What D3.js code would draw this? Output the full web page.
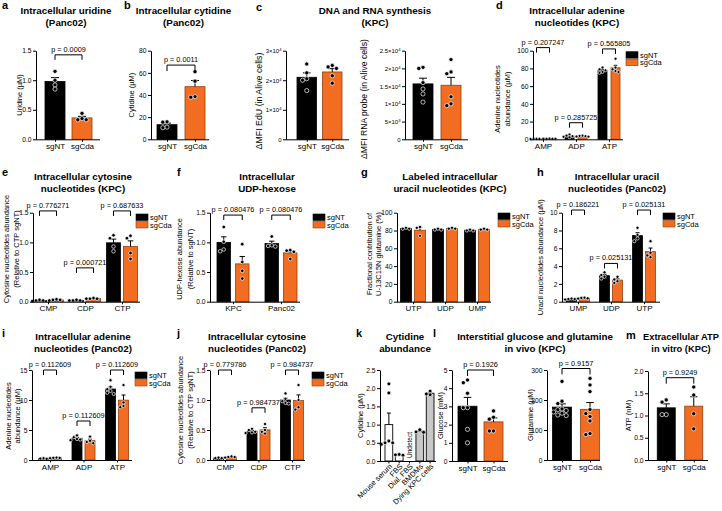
<!DOCTYPE html>
<html>
<head>
<meta charset="utf-8">
<script src="https://cdn.jsdelivr.net/npm/d3@7"></script>
<style>
  body { margin: 0; background: #fff; }
  svg text { font-family: "Liberation Sans", Arial, sans-serif; fill: #000; }
</style>
</head>
<body>
<svg id="fig" width="722" height="511"></svg>
<script>
var seriesNames = ["sgNT", "sgCda"];

// a  intracellular uridine (Panc02)
var uridine = [[[1.15, 1.0, 0.92, 0.85], [0.44, 0.35, 0.33, 0.33]]];
var uridineP = ["p = 0.0009"];
var uridineTicks = [0, 0.5, 1, 1.5];

// b  intracellular cytidine (Panc02)
var cytidine = [[[15.8, 15.5, 11.0, 10.5], [61, 52.5, 38.5, 38]]];
var cytidineP = ["p = 0.0011"];
var cytidineTicks = [0, 20, 40, 60, 80];

// c  DNA and RNA synthesis (KPC)
var eduMfi = [[[25500, 22500, 20500, 20000, 16500], [25000, 24500, 24000, 21500, 19000]]];
var eduTicks = [0, 10000, 20000, 30000];
var rnaMfi = [[[20000, 20300, 16000, 14200, 12800, 10500], [22500, 19000, 18500, 12000, 10000, 9500]]];
var rnaTicks = [0, 5000, 10000, 15000, 20000, 25000];

// d  adenine nucleotides (KPC)
var adenineKpcGroups = ["AMP", "ADP", "ATP"];
var adenineKpc = [
  [[0.6, 0.5, 0.4, 0.5, 0.4], [0.8, 0.7, 0.6, 0.6, 0.7]],
  [[5.5, 4.2, 3.5, 2.8, 2.2], [4.2, 3.8, 3.5, 3.2, 3.0]],
  [[81, 79, 78, 76, 75], [91, 81, 79, 77, 76]]
];
var adenineKpcP = ["p = 0.207247", "p = 0.285725", "p = 0.565805"];
var pctTicks = [0, 20, 40, 60, 80, 100];

// e  cytosine nucleotides (KPC)
var cytosineKpcGroups = ["CMP", "CDP", "CTP"];
var cytosineKpc = [
  [[0.03, 0.02, 0.02, 0.01], [0.04, 0.03, 0.03, 0.02]],
  [[0.03, 0.02, 0.02, 0.02], [0.06, 0.05, 0.05, 0.05]],
  [[1.12, 1.07, 0.93, 0.85], [1.11, 1.07, 0.82, 0.72]]
];
var cytosineKpcP = ["p = 0.776271", "p = 0.000721", "p = 0.687633"];
var relTicks = [0, 0.5, 1, 1.5];

// f  UDP-hexose
var udpGroups = ["KPC", "Panc02"];
var udpHexose = [
  [[1.26, 1.01, 0.88, 0.85], [0.97, 0.67, 0.52, 0.39]],
  [[1.1, 0.95, 0.94, 0.93], [0.87, 0.86, 0.84, 0.72]]
];
var udpP = ["p = 0.080476", "p = 0.080476"];

// g  labeled uracil nucleotides (KPC)
var labeledGroups = ["UTP", "UDP", "UMP"];
var labeledUracil = [
  [[83, 82, 82], [84, 83, 74]],
  [[82, 81, 81], [83, 82, 82]],
  [[81, 80, 80], [82, 81, 81]]
];

// h  uracil nucleotides (Panc02)
var uracilGroups = ["UMP", "UDP", "UTP"];
var uracilPanc = [
  [[0.35, 0.3, 0.25, 0.3], [0.45, 0.42, 0.38, 0.35]],
  [[3.3, 3.0, 2.8, 2.6], [2.8, 2.5, 2.3, 2.1]],
  [[8.3, 7.5, 7.1, 6.8], [6.8, 5.5, 5.2, 5.0]]
];
var uracilP = ["p = 0.186221", "p = 0.025131", "p = 0.025131"];
var uracilTicks = [0, 2, 4, 6, 8, 10];

// i  adenine nucleotides (Panc02)
var adeninePancGroups = ["AMP", "ADP", "ATP"];
var adeninePanc = [
  [[0.3, 0.25, 0.2], [0.4, 0.35, 0.35, 0.3]],
  [[4.1, 3.8, 3.5, 3.3, 3.4], [3.9, 3.2, 3.0, 2.8]],
  [[13.3, 12.2, 11.8, 11.5, 11.2, 11.0], [12.5, 9.6, 9.0, 8.8]]
];
var adeninePancP = ["p = 0.112609", "p = 0.112609", "p = 0.112609"];
var adeninePancTicks = [0, 5, 10, 15];

// j  cytosine nucleotides (Panc02)
var cytosinePancGroups = ["CMP", "CDP", "CTP"];
var cytosinePanc = [
  [[0.04, 0.03, 0.03], [0.06, 0.05, 0.05, 0.04]],
  [[0.52, 0.5, 0.47, 0.45, 0.46], [0.6, 0.5, 0.47, 0.44]],
  [[1.11, 1.02, 0.98, 0.95, 0.94], [1.25, 1.0, 0.88, 0.84]]
];
var cytosinePancP = ["p = 0.779786", "p = 0.984737", "p = 0.984737"];

// k  cytidine abundance
var cytidineSources = ["Mouse serum", "FBS", "Dial. FBS", "BMDMs", "Dying KPC cells"];
var cytidineLevels = [[2.12, 1.87, 0.55, 0.5, 0.5, 0.46], [0.18, 0.17, 0.16], [], [0.86, 0.8, 0.79], [1.92, 1.84, 1.82]];
var cytidineLevelTicks = [0, 0.5, 1, 1.5, 2, 2.5];

// l  interstitial glucose and glutamine
var glucose = [[[4.45, 4.3, 3.72, 2.93, 2.93, 1.74, 1.0], [2.75, 2.4, 2.3, 1.65, 1.65]]];
var glucoseP = ["p = 0.1926"];
var glucoseTicks = [0, 1, 2, 3, 4, 5];
var glutamine = [[[262, 196, 188, 170, 168, 165, 160, 156, 150, 148], [272, 250, 228, 168, 155, 145, 130, 88, 85]]];
var glutamineP = ["p = 0.9157"];
var glutamineTicks = [0, 100, 200, 300];

// m  extracellular ATP
var atp = [[[1.35, 1.3, 1.02, 1.02], [1.64, 1.46, 1.04, 0.7]]];
var atpP = ["p = 0.9249"];
var atpTicks = [0, 0.5, 1, 1.5, 2];

var svg = d3.select("#fig");
var ORANGE = "#f26c22", ORANGE_EDGE = "#93400f";
var f1 = d3.format(".1f"), fd = d3.format("d");

function sem(v) { return v.length > 1 ? d3.deviation(v) / Math.sqrt(v.length) : 0; }

function styleAxis(sel, fs) {
  sel.attr("font-family", null).attr("font-size", fs);
  sel.selectAll("path, line").attr("stroke", "#000").attr("stroke-width", 1);
}

// simple column scatter: spread points sideways when they collide
function swarm(vals, cx, y, r) {
  var placed = [], step = r * 2;
  vals.slice().sort(function(a, b) { return b - a; }).forEach(function(v) {
    var py = y(v), px = cx;
    for (var k = 0; k < 12; k++) {
      var o = k === 0 ? 0 : Math.ceil(k / 2) * step * (k % 2 ? -1 : 1);
      px = cx + o;
      var ok = placed.every(function(p) { return Math.hypot(p.x - px, p.y - py) >= step * 0.95; });
      if (ok) break;
    }
    placed.push({x: px, y: py});
  });
  return placed;
}

function dots(g, pts, r) {
  g.selectAll(null).data(pts).join("circle")
    .attr("cx", function(d) { return d.x; }).attr("cy", function(d) { return d.y; })
    .attr("r", r).attr("fill", "#000").attr("stroke", "#fff").attr("stroke-width", 0.7);
}

function errBar(g, cx, y0, y1, cap) {
  g.append("path").attr("d", "M" + cx + "," + y0 + "V" + y1 + "M" + (cx - cap / 2) + "," + y1 + "h" + cap)
    .attr("stroke", "#000").attr("stroke-width", 1).attr("fill", "none");
}

function titleText(cx, y0, lines, fs) {
  var t = svg.append("text").attr("text-anchor", "middle").attr("font-size", fs || 9.8).attr("font-weight", "bold");
  lines.forEach(function(s, i) { t.append("tspan").attr("x", cx).attr("y", y0 + i * 12).text(s); });
}

function letter(x, y0, s) {
  svg.append("text").attr("x", x).attr("y", y0).attr("font-size", 11).attr("font-weight", "bold").text(s);
}

function yLabel(xs, cy, lines, fs) {
  lines.forEach(function(s, i) {
    svg.append("text").attr("transform", "translate(" + xs[i] + "," + cy + ") rotate(-90)")
      .attr("text-anchor", "middle").attr("dy", "0.35em").attr("font-size", fs || 7.5).text(s);
  });
}

function sciTicks(axis) {
  axis.selectAll(".tick text").each(function(d) {
    if (d === 0) return;
    var e = Math.floor(Math.log10(d)), m = d / Math.pow(10, e);
    var t = d3.select(this).text(null);
    t.append("tspan").text(m + "\u00d710");
    t.append("tspan").attr("dy", "-0.45em").attr("font-size", "0.7em").text(e);
  });
}

function barPanel(o) {
  var y = d3.scaleLinear().domain([0, o.ticks[o.ticks.length - 1]]).range([o.bottom, o.top]);
  var gx = d3.scalePoint().domain(d3.range(o.data.length)).range(o.centers);
  var off = (o.bw + o.gap) / 2;
  var bx = function(gi, si) { return gx(gi) + (si ? off : -off); };
  var g = svg.append("g");
  var r = o.r || 2;

  o.data.forEach(function(grp, gi) {
    grp.forEach(function(vals, si) {
      var m = d3.mean(vals), e = sem(vals), cx = bx(gi, si);
      g.append("rect").attr("x", cx - o.bw / 2).attr("y", y(m))
        .attr("width", o.bw).attr("height", y(0) - y(m))
        .attr("fill", si ? ORANGE : "#000").attr("stroke", si ? ORANGE_EDGE : "#000").attr("stroke-width", 0.8);
      errBar(g, cx, y(m), y(m + e), Math.max(3.5, o.bw * 0.4));
      dots(g, swarm(vals, cx, y, r), r);
    });
  });

  var ya = g.append("g").attr("transform", "translate(" + o.x0 + ",0)")
    .call(d3.axisLeft(y).tickValues(o.ticks).tickSize(3).tickSizeOuter(0).tickPadding(1.5).tickFormat(o.fmt));
  styleAxis(ya, o.tickFs || 6.7);
  if (o.sci) sciTicks(ya);

  var labels, pos;
  if (o.data.length === 1) {
    labels = seriesNames; pos = [bx(0, 0), bx(0, 1)];
  } else {
    labels = o.groups; pos = o.groups.map(function(d, i) { return gx(i); });
  }
  var xa = g.append("g").attr("transform", "translate(0," + o.bottom + ")")
    .call(d3.axisBottom(d3.scaleOrdinal(labels, pos)).tickSize(2.5).tickPadding(1.5));
  xa.select(".domain").remove();
  styleAxis(xa, 8);
  g.append("path").attr("d", "M" + o.x0 + "," + (o.bottom + 0.5) + "H" + o.x1)
    .attr("stroke", "#000").attr("stroke-width", 1);

  (o.p || []).forEach(function(txt, i) {
    var gi = o.data.length === 1 ? 0 : i;
    var xa1 = bx(gi, 0), xa2 = bx(gi, 1), yy = y(o.pLevels[i]), tk = o.pTick || 5;
    g.append("path").attr("d", "M" + xa1 + "," + (yy + tk) + "V" + yy + "H" + xa2 + "V" + (yy + tk))
      .attr("fill", "none").attr("stroke", "#000").attr("stroke-width", 1);
    g.append("text").attr("x", (xa1 + xa2) / 2).attr("y", yy - 3)
      .attr("text-anchor", "middle").attr("font-size", 7.3).text(txt);
  });

  if (o.legend) {
    seriesNames.forEach(function(s, i) {
      g.append("rect").attr("x", o.legend[0]).attr("y", o.legend[1] + i * 7.5).attr("width", 12).attr("height", 6.5)
        .attr("fill", i ? ORANGE : "#000").attr("stroke", i ? ORANGE_EDGE : "#000").attr("stroke-width", 0.6);
      g.append("text").attr("x", o.legend[0] + 14).attr("y", o.legend[1] + i * 7.5 + 6)
        .attr("font-size", 7.5).text(s);
    });
  }

  yLabel(o.ylabX, o.ylabY || (o.top + o.bottom) / 2, o.ylab, o.ylabFs);
}

function sourcePanel(o) {
  var y = d3.scaleLinear().domain([0, cytidineLevelTicks[cytidineLevelTicks.length - 1]]).range([o.bottom, o.top]);
  var x = d3.scaleBand().domain(cytidineSources).range([o.bx0, o.bx1]).paddingInner(0.25).paddingOuter(0);
  var g = svg.append("g");
  cytidineSources.forEach(function(s, i) {
    var vals = cytidineLevels[i], cx = x(s) + x.bandwidth() / 2;
    if (!vals.length) {
      g.append("text").attr("transform", "translate(" + (cx + 2.5) + "," + (o.bottom - 3) + ") rotate(-90)")
        .attr("font-size", 6.5).text("Undetect");
      return;
    }
    var m = d3.mean(vals), e = sem(vals);
    g.append("rect").attr("x", x(s)).attr("y", y(m)).attr("width", x.bandwidth()).attr("height", y(0) - y(m))
      .attr("fill", o.fills[i]).attr("stroke", "#000").attr("stroke-width", 0.9);
    errBar(g, cx, y(m), y(m + e), 4);
    dots(g, swarm(vals, cx, y, 1.9), 1.9);
  });
  var ya = g.append("g").attr("transform", "translate(" + o.x0 + ",0)")
    .call(d3.axisLeft(y).tickValues(cytidineLevelTicks).tickSize(3).tickSizeOuter(0).tickPadding(1.5).tickFormat(f1));
  styleAxis(ya, 6.7);
  g.append("path").attr("d", "M" + o.x0 + "," + (o.bottom + 0.5) + "H" + o.x1)
    .attr("stroke", "#000").attr("stroke-width", 1);
  cytidineSources.forEach(function(s) {
    var cx = x(s) + x.bandwidth() / 2;
    g.append("line").attr("x1", cx).attr("x2", cx).attr("y1", o.bottom).attr("y2", o.bottom + 2.5)
      .attr("stroke", "#000");
    g.append("text").attr("transform", "translate(" + (cx + 2) + "," + (o.bottom + 4) + ") rotate(-45)")
      .attr("text-anchor", "end").attr("dy", "0.35em").attr("font-size", 7.5).text(s);
  });
  yLabel([o.ylabX], (o.top + o.bottom) / 2, ["Cytidine (\u00b5M)"]);
}

var R1 = [50.7, 139.3], R2 = [212.7, 301.7], R3 = [370, 460];

// row 1
letter(2, 8.5, "a"); letter(124, 8.5, "b"); letter(256, 10.5, "c"); letter(496, 8.5, "d");
titleText(66, 13.5, ["Intracellular uridine", "(Panc02)"]);
titleText(183.5, 13.5, ["Intracellular cytidine", "(Panc02)"]);
titleText(375, 13.5, ["DNA and RNA synthesis", "(KPC)"]);
titleText(577, 13.5, ["Intracellular adenine", "nucleotides (KPC)"]);

barPanel({data: uridine, p: uridineP, pLevels: [1.43], ticks: uridineTicks, fmt: f1,
  x0: 36, x1: 100, centers: [68.5, 68.5], bw: 20, gap: 7, top: R1[0], bottom: R1[1], r: 2.1,
  ylab: ["Uridine (\u00b5M)"], ylabX: [19]});
barPanel({data: cytidine, p: cytidineP, pLevels: [67], ticks: cytidineTicks, fmt: fd,
  x0: 151, x1: 209, centers: [181, 181], bw: 20, gap: 8, top: R1[0], bottom: R1[1], r: 2.1, pTick: 6,
  ylab: ["Cytidine (\u00b5M)"], ylabX: [131]});
barPanel({data: eduMfi, ticks: eduTicks, fmt: fd, sci: true, tickFs: 6,
  x0: 286, x1: 349, centers: [319.5, 319.5], bw: 19.5, gap: 6, top: R1[0], bottom: R1[1], r: 2.1,
  ylab: ["\u0394MFI EdU (in Alive cells)"], ylabX: [259], ylabY: 101, ylabFs: 8.8});
barPanel({data: rnaMfi, ticks: rnaTicks, fmt: fd, sci: true, tickFs: 6,
  x0: 405, x1: 468, centers: [437, 437], bw: 20, gap: 8, top: R1[0], bottom: R1[1], r: 2.1,
  ylab: ["\u0394MFI RNA probe (in  Alive cells)"], ylabX: [364], ylabY: 99, ylabFs: 8.6});
barPanel({data: adenineKpc, groups: adenineKpcGroups, p: adenineKpcP, pLevels: [103.5, 18.7, 102],
  ticks: pctTicks, fmt: fd, x0: 533, x1: 623, centers: [543, 609], bw: 9, gap: 4,
  top: R1[0], bottom: R1[1], r: 1.5, legend: [626, 51.7],
  ylab: ["Adenine nucleotides", "abundance (\u00b5M)"], ylabX: [497.5, 507], ylabY: 99});

// row 2
letter(2, 176, "e"); letter(177, 176, "f"); letter(361, 176, "g"); letter(537, 176, "h");
titleText(83, 180, ["Intracellular cytosine", "nucleotides (KPC)"]);
titleText(267, 180, ["Intracellular", "UDP-hexose"]);
titleText(450, 180, ["Labeled intracellular", "uracil nucleotides (KPC)"]);
titleText(617, 180, ["Intracellular uracil", "nucleotides (Panc02)"]);

barPanel({data: cytosineKpc, groups: cytosineKpcGroups, p: cytosineKpcP, pLevels: [1.53, 0.57, 1.53],
  ticks: relTicks, fmt: f1, x0: 33, x1: 140, centers: [48, 122], bw: 14, gap: 3,
  top: R2[0], bottom: R2[1], r: 1.8, legend: [136, 214],
  ylab: ["Cytosine nucleotides abundance", "(Relative to CTP sgNT)"], ylabX: [6, 16], ylabY: 249});
barPanel({data: udpHexose, groups: udpGroups, p: udpP, pLevels: [1.46, 1.46],
  ticks: relTicks, fmt: f1, x0: 210, x1: 300, centers: [233, 281], bw: 13.5, gap: 5,
  top: R2[0], bottom: R2[1], r: 1.8, legend: [313, 214],
  ylab: ["UDP-hexose abundance", "(Relative to sgNT)"], ylabX: [179.5, 190], ylabY: 259});
barPanel({data: labeledUracil, groups: labeledGroups,
  ticks: pctTicks, fmt: fd, x0: 397, x1: 491, centers: [413, 477], bw: 11, gap: 3,
  top: R2[0], bottom: R2[1], r: 1.6, legend: [498, 213],
  ylab: ["Fractional contribution of", "U-13C15N glutamine (%)"], ylabX: [369.5, 378.5], ylabY: 254});
barPanel({data: uracilPanc, groups: uracilGroups, p: uracilP, pLevels: [10.3, 4.3, 10.3],
  ticks: uracilTicks, fmt: fd, x0: 562, x1: 660, centers: [578, 644], bw: 10, gap: 3,
  top: R2[0], bottom: R2[1], r: 1.6, legend: [663, 213],
  ylab: ["Uracil nucleotides abundance (\u00b5M)"], ylabX: [540]});

// row 3
letter(2, 337, "i"); letter(177, 337, "j"); letter(356, 337, "k"); letter(433, 337, "l"); letter(626, 339, "m");
titleText(83, 339.5, ["Intracellular adenine", "nucleotides (Panc02)"]);
titleText(257, 339.5, ["Intracellular cytosine", "nucleotides (Panc02)"]);
titleText(405, 339.5, ["Cytidine", "abundance"]);
titleText(535, 339.5, ["Interstitial glucose and glutamine", "in vivo (KPC)"]);
titleText(681, 339.5, ["Extracellular ATP", "in vitro (KPC)"], 9.3);

barPanel({data: adeninePanc, groups: adeninePancGroups, p: adeninePancP, pLevels: [15, 6.5, 15],
  ticks: adeninePancTicks, fmt: fd, x0: 32, x1: 132, centers: [50, 117], bw: 10, gap: 3,
  top: R3[0], bottom: R3[1], r: 1.6, legend: [135, 372],
  ylab: ["Adenine nucleotides", "abundance (\u00b5M)"], ylabX: [8, 17.5], ylabY: 416});
barPanel({data: cytosinePanc, groups: cytosinePancGroups, p: cytosinePancP, pLevels: [1.5, 0.87, 1.5],
  ticks: relTicks, fmt: f1, x0: 210, x1: 305, centers: [225, 292], bw: 10, gap: 3,
  top: R3[0], bottom: R3[1], r: 1.6, legend: [312, 372],
  ylab: ["Cytosine nucleotides abundance", "(Relative to CTP sgNT)"], ylabX: [180, 190], ylabY: 410});
sourcePanel({x0: 380, bx0: 385, bx1: 434, x1: 436, top: R3[0], bottom: R3[1] + 1, ylabX: 360,
  fills: ["#fff", "#fff", "#fff", "#c8c8c8", "#c8c8c8"]});
barPanel({data: glucose, p: glucoseP, pLevels: [5], pTick: 6, ticks: glucoseTicks, fmt: fd,
  x0: 452, x1: 508, centers: [480.5, 480.5], bw: 19, gap: 7, top: R3[0], bottom: R3[1] + 1, r: 2.1,
  ylab: ["Glucose (mM)"], ylabX: [440]});
barPanel({data: glutamine, p: glutamineP, pLevels: [305], pTick: 6, ticks: glutamineTicks, fmt: fd,
  x0: 547, x1: 600, centers: [576, 576], bw: 19, gap: 9, top: R3[0], bottom: R3[1], r: 2.1,
  ylab: ["Glutamine (\u00b5M)"], ylabX: [530]});
barPanel({data: atp, p: atpP, pLevels: [1.85], pTick: 6, ticks: atpTicks, fmt: f1,
  x0: 648, x1: 708, centers: [680, 680], bw: 18, gap: 9.5, top: R3[0] + 1, bottom: R3[1], r: 2.1,
  ylab: ["ATP (nM)"], ylabX: [628]});
</script>
</body>
</html>
